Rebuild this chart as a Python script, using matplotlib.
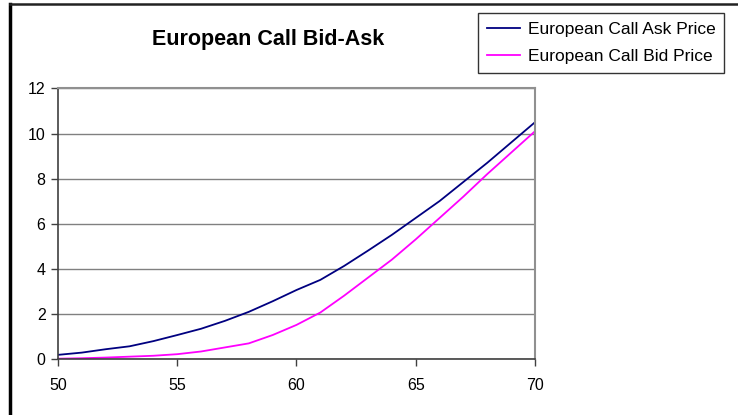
import numpy as np
import matplotlib
matplotlib.use("Agg")
import matplotlib.pyplot as plt
from matplotlib.lines import Line2D

plt.rcParams["font.family"] = ["Liberation Sans", "DejaVu Sans"]

# strike prices and the two price curves
strikes = [50, 51, 52, 53, 54, 55, 56, 57, 58, 59, 60,
           61, 62, 63, 64, 65, 66, 67, 68, 69, 70]
ask_price = [0.17, 0.27, 0.42, 0.55, 0.78, 1.05, 1.33, 1.68, 2.08, 2.55, 3.05,
             3.50, 4.12, 4.80, 5.50, 6.25, 7.00, 7.85, 8.70, 9.60, 10.50]
bid_price = [0.00, 0.02, 0.05, 0.09, 0.13, 0.20, 0.32, 0.50, 0.68, 1.05, 1.50,
             2.05, 2.80, 3.60, 4.40, 5.30, 6.25, 7.20, 8.20, 9.15, 10.10]

labels = ["European Call Ask Price", "European Call Bid Price"]
x_ticks = [50, 55, 60, 65, 70]
y_ticks = [0, 2, 4, 6, 8, 10, 12]

fig = plt.figure(figsize=(7.38, 4.15), dpi=100)
ax = fig.add_axes([0.0786, 0.1357, 0.6463, 0.6511])

ax.plot(strikes, ask_price, color="#000080", lw=1.3, label=labels[0])
ax.plot(strikes, bid_price, color="#FF00FF", lw=1.3, label=labels[1])

ax.set_xlim(50, 70)
ax.set_ylim(0, 12)
ax.set_xticks(x_ticks)
ax.set_yticks(y_ticks)
ax.grid(axis="y", color="#808080", lw=1)
ax.set_axisbelow(True)
ax.tick_params(labelsize=11.5, length=5, width=1, color="#404040")
ax.tick_params(axis="x", pad=9)
ax.tick_params(axis="y", pad=4)

for side in ["top", "right"]:
    ax.spines[side].set_color("#909090")
    ax.spines[side].set_linewidth(1.5)
for side in ["left", "bottom"]:
    ax.spines[side].set_color("#404040")
    ax.spines[side].set_linewidth(1.2)

fig.text(0.363, 0.905, "European Call Bid-Ask", fontsize=15.5,
         fontweight="bold", ha="center", va="center")

leg = fig.legend(loc="upper right", bbox_to_anchor=(0.981, 0.9687),
                 fontsize=12.5, frameon=True, fancybox=False, shadow=False,
                 handlelength=1.9, handletextpad=0.45, labelspacing=0.72,
                 borderpad=0.5, borderaxespad=0)
leg.get_frame().set_edgecolor("black")
leg.get_frame().set_linewidth(1)

# outer chart border (only top and left visible in the picture)
fig.add_artist(Line2D([9.5 / 738, 9.5 / 738], [0, 410.5 / 415],
                      color="black", lw=2.5, transform=fig.transFigure))
fig.add_artist(Line2D([9.5 / 738, 1], [410.5 / 415, 410.5 / 415],
                      color="#222222", lw=1.8, transform=fig.transFigure))

plt.savefig("out.png", dpi=100)
